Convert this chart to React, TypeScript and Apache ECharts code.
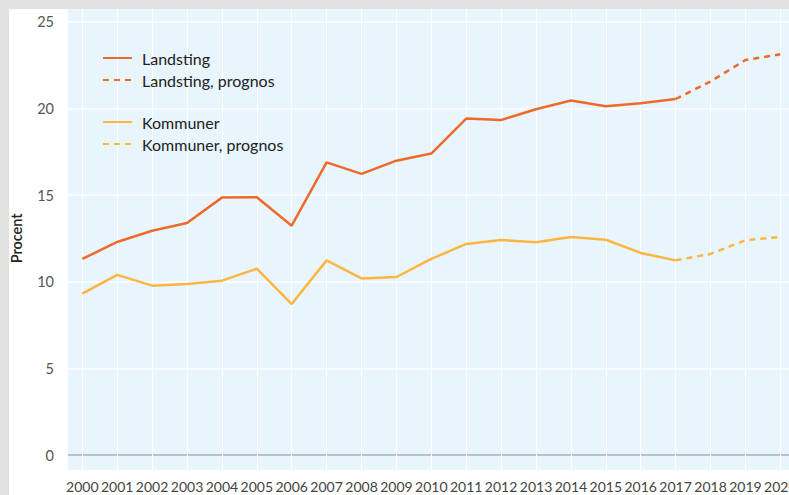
import React, { useEffect, useRef } from "react";
import * as echarts from "echarts";

const years = [
  "2000", "2001", "2002", "2003", "2004", "2005", "2006", "2007", "2008", "2009", "2010",
  "2011", "2012", "2013", "2014", "2015", "2016", "2017", "2018", "2019", "2020",
];

const landsting = [
  11.31, 12.29, 12.94, 13.39, 14.85, 14.87, 13.23, 16.88, 16.22, 16.98, 17.39,
  19.41, 19.33, 19.95, 20.45, 20.12, 20.29, 20.54, null, null, null,
];
const landstingPrognos = [
  null, null, null, null, null, null, null, null, null, null, null,
  null, null, null, null, null, null, 20.54, 21.55, 22.79, 23.12,
];
const kommuner = [
  9.31, 10.39, 9.77, 9.87, 10.06, 10.75, 8.71, 11.23, 10.19, 10.27, 11.31,
  12.18, 12.41, 12.27, 12.58, 12.42, 11.66, 11.23, null, null, null,
];
const kommunerPrognos = [
  null, null, null, null, null, null, null, null, null, null, null,
  null, null, null, null, null, null, 11.23, 11.6, 12.39, 12.58,
];

const yTicks = [0, 5, 10, 15, 20, 25];

const ORANGE = "#ee6a2b";
const YELLOW = "#fcb541";
const FONT = "Lato, 'Open Sans', sans-serif";

export default function App() {
  const ref = useRef<HTMLDivElement>(null);

  useEffect(() => {
    document.body.style.margin = "0";
    if (!ref.current) return;
    const chart = echarts.init(ref.current, undefined, { renderer: "svg" });
    const pxPerUnit = 433.3 / 25;
    const topVal = 25 + 12.7 / pxPerUnit;
    const botVal = -15 / pxPerUnit;
    const legendCommon = {
      orient: "vertical",
      left: 93,
      padding: 0,
      itemGap: 6,
      itemWidth: 29,
      itemHeight: 14,
      itemStyle: { opacity: 0 },
      textStyle: { color: "#222", fontSize: 16, fontFamily: FONT, padding: [0, 0, 0, 5] },
    };
    chart.setOption({
      animation: false,
      textStyle: { fontFamily: FONT },
      grid: [
        { left: 59, right: 0, top: 0, bottom: 25, show: true, backgroundColor: "#e8f5fd", borderWidth: 0, outerBoundsMode: "none" },
        { left: 59, right: 0, top: 12.7, bottom: 40, outerBoundsMode: "none" },
        { left: 73.3, right: 8.7, top: 0, bottom: 25, outerBoundsMode: "none" },
      ],
      xAxis: [
        { gridIndex: 0, type: "category", data: years, show: false },
        { gridIndex: 1, type: "category", data: years, show: false },
        {
          gridIndex: 2,
          type: "category",
          data: years,
          boundaryGap: false,
          axisLine: { show: false },
          axisTick: { show: false },
          axisLabel: { color: "#444", fontSize: 14, margin: 9, interval: 0, fontFamily: FONT, hideOverlap: false },
          splitLine: { show: true, lineStyle: { color: "#ffffff", width: 1 } },
        },
      ],
      yAxis: [
        { gridIndex: 0, type: "value", show: false, min: 0, max: 1, splitLine: { show: false } },
        {
          gridIndex: 1,
          type: "value",
          min: yTicks[0],
          max: yTicks[yTicks.length - 1],
          interval: 5,
          axisLine: { show: false },
          axisTick: { show: false },
          axisLabel: { color: "#555", fontSize: 14.5, margin: 14, fontFamily: FONT },
          splitLine: {
            show: true,
            lineStyle: { color: ["#a7afb7", "#ffffff", "#ffffff", "#ffffff", "#ffffff", "#ffffff"], width: 1.5 },
          },
          name: "Procent",
          nameLocation: "middle",
          nameGap: 44,
          nameTextStyle: { color: "#222", fontSize: 14.5, fontWeight: 600, fontFamily: FONT },
        },
        { gridIndex: 2, type: "value", show: false, min: botVal, max: topVal, splitLine: { show: false } },
      ],
      legend: [
        { ...legendCommon, data: ["Landsting", "Landsting, prognos"], top: 41 },
        { ...legendCommon, data: ["Kommuner", "Kommuner, prognos"], top: 105 },
      ],
      series: [
        {
          name: "Landsting",
          type: "line",
          xAxisIndex: 2,
          yAxisIndex: 2,
          data: landsting,
          symbol: "none",
          lineStyle: { color: ORANGE, width: 2.5 },
          itemStyle: { color: ORANGE },
        },
        {
          name: "Landsting, prognos",
          type: "line",
          xAxisIndex: 2,
          yAxisIndex: 2,
          data: landstingPrognos,
          symbol: "none",
          lineStyle: { color: ORANGE, width: 2.5, type: [6, 5] },
          itemStyle: { color: ORANGE },
        },
        {
          name: "Kommuner",
          type: "line",
          xAxisIndex: 2,
          yAxisIndex: 2,
          data: kommuner,
          symbol: "none",
          lineStyle: { color: YELLOW, width: 2.5 },
          itemStyle: { color: YELLOW },
        },
        {
          name: "Kommuner, prognos",
          type: "line",
          xAxisIndex: 2,
          yAxisIndex: 2,
          data: kommunerPrognos,
          symbol: "none",
          lineStyle: { color: YELLOW, width: 2.5, type: [6, 5] },
          itemStyle: { color: YELLOW },
        },
      ],
    });
    return () => chart.dispose();
  }, []);

  return (
    <div style={{ position: "relative", width: 789, height: 495, background: "#e1e1e1", overflow: "hidden" }}>
      <div
        ref={ref}
        style={{ position: "absolute", left: 9, top: 9, width: 780, height: 486, background: "#ffffff" }}
      />
    </div>
  );
}
